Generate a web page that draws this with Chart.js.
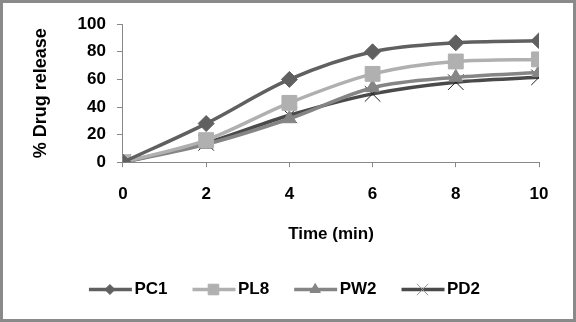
<!DOCTYPE html>
<html>
<head>
<meta charset="utf-8">
<script src="https://cdn.jsdelivr.net/npm/chart.js@4.4.0/dist/chart.umd.min.js"></script>
<style>
  body { margin: 0; background: #fff; }
  .frame { width: 576px; height: 322px; box-sizing: border-box; border: 3px solid #8a8a8a; }
  .frame canvas { display: block; }
</style>
</head>
<body>
<div class="frame"><canvas id="myCanvas" width="570" height="316"></canvas></div>
<script>
const times = [0, 2, 4, 6, 8, 10];
const pc1 = [0, 28, 60, 80, 86.5, 88];
const pl8 = [0, 16, 43, 64, 73, 74.5];
const pw2 = [0, 13, 31.5, 54, 61.5, 65];
const pd2 = [0, 14, 34, 49.5, 58, 61.5];

const canvas = document.querySelector("#myCanvas");
const font = { family: "'Liberation Sans', Arial, sans-serif", size: 17, weight: "bold" };

function toPoints(values) {
  return times.map((t, i) => ({ x: t, y: values[i] }));
}

function makeSet(label, values, color, pointStyle, radius, legendRadius) {
  return {
    label: label,
    data: toPoints(values),
    borderColor: color,
    backgroundColor: color,
    pointStyle: pointStyle,
    pointRadius: radius,
    pointBorderColor: pointStyle === "crossRot" ? "#222" : color,
    pointBackgroundColor: color,
    pointBorderWidth: 1,
    borderWidth: 3.5,
    tension: 0.4,
    cubicInterpolationMode: "monotone",
    legendRadius: legendRadius,
  };
}

const datasets = [
  makeSet("PC1", pc1, "#606060", "rectRot", 8, 5),
  makeSet("PL8", pl8, "#b0b0b0", "rect", 10.5, 7.5),
  makeSet("PW2", pw2, "#858585", "triangle", 8, 6),
  makeSet("PD2", pd2, "#4a4a4a", "crossRot", 11, 8),
];

// draw line + marker legend symbols like the original
const legendMarkers = {
  id: "legendMarkers",
  afterDraw(chart) {
    const legend = chart.legend;
    if (!legend || !legend.legendHitBoxes) return;
    const ctx = chart.ctx;
    legend.legendHitBoxes.forEach((box, i) => {
      const ds = chart.data.datasets[i];
      const cy = box.top + box.height / 2;
      ctx.save();
      ctx.fillStyle = "#fff";
      ctx.fillRect(box.left - 4, box.top - 2, 44, box.height + 4);
      ctx.strokeStyle = ds.borderColor;
      ctx.lineWidth = 3.5;
      ctx.beginPath();
      ctx.moveTo(box.left, cy);
      ctx.lineTo(box.left + 43, cy);
      ctx.stroke();
      ctx.fillStyle = ds.borderColor;
      ctx.strokeStyle = ds.pointStyle === "crossRot" ? "#999" : ds.borderColor;
      ctx.lineWidth = 1;
      Chart.helpers.drawPoint(ctx, {
        pointStyle: ds.pointStyle,
        radius: ds.legendRadius,
        borderWidth: 1,
        rotation: 0,
      }, box.left + 21, cy);
      ctx.restore();
    });
  },
};

const config = {
  type: "line",
  data: { datasets: datasets },
  options: {
    responsive: false,
    animation: false,
    layout: { padding: { top: 21, right: 34, left: 27, bottom: 11 } },
    scales: {
      x: {
        type: "linear",
        min: 0,
        max: 10,
        ticks: { stepSize: 2, color: "#000", font: font, padding: 17 },
        grid: { drawOnChartArea: false, drawTicks: true, tickLength: 5, color: "#888" },
        border: { color: "#888", width: 1 },
        title: {
          display: true,
          text: "Time (min)",
          color: "#000",
          font: font,
          padding: { top: 3, bottom: 11 },
        },
      },
      y: {
        min: 0,
        max: 100,
        ticks: { stepSize: 20, color: "#000", font: font, padding: 11 },
        grid: { drawOnChartArea: false, drawTicks: true, tickLength: 6, color: "#888" },
        border: { color: "#888", width: 1 },
        title: {
          display: true,
          text: "% Drug release",
          color: "#000",
          font: { family: font.family, size: 18, weight: "bold" },
          padding: { top: 0, bottom: 15 },
        },
      },
    },
    plugins: {
      tooltip: { enabled: false },
      legend: {
        position: "bottom",
        labels: {
          color: "#000",
          font: font,
          boxWidth: 37,
          boxHeight: 12,
          padding: 25,
        },
      },
    },
  },
  plugins: [legendMarkers],
};

const myChart = new Chart(canvas, config);
</script>
</body>
</html>
